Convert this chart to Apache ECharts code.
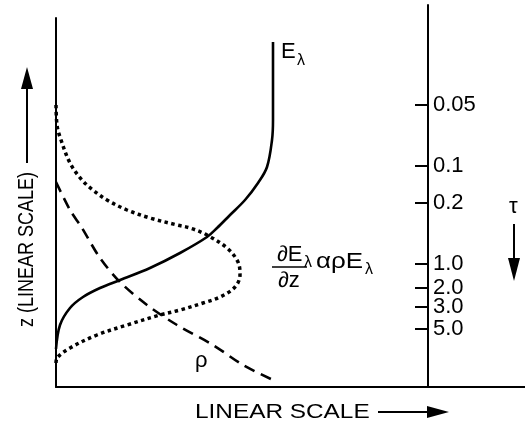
<!DOCTYPE html>
<html><head><meta charset="utf-8">
<script src="https://cdn.jsdelivr.net/npm/echarts@6/dist/echarts.min.js"></script>
<style>html,body{margin:0;padding:0;background:#fff}#c{width:525px;height:427px}</style>
</head><body><div id="c"></div>
<script>
// x: linear scale (arbitrary units), z: height (arbitrary linear units)
const irradianceE = [[0,38],[4,62],[14,79],[27,90],[44,99],[64,107],[94,119],[124,134],[151,150],[161,159],[174,172],[189,187],[202,204],[211,220],[216,247],[217,267],[217,300],[217,345]];
const dEdz = [[0,282],[1,262],[4,250],[14,224],[26,207],[37,197],[51,187],[71,177],[94,169],[121,162],[134,159],[151,152],[171,139],[182,125],[184,112],[179,100],[164,90],[147,84],[124,77],[104,72],[71,62],[41,52],[14,39],[1,29],[0,24]];
const density = [[0,205],[14,177],[26,159],[44,129],[64,105],[91,82],[121,62],[157,42],[187,22],[217,7]];
const tauLabels = ['0.05','0.1','0.2','1.0','2.0','3.0','5.0'];
const tauZ = [282,221,184,123,99,80,58];

const chart = echarts.init(document.getElementById('c'), null, {renderer:'canvas'});
const FONT = 'Liberation Sans, Arial, sans-serif';
const INK = '#000';
const noAxisDeco = {axisTick:{show:false}, axisLabel:{show:false}, splitLine:{show:false}};
const lineAx = {onZero:false, lineStyle:{color:INK, width:2}};
function txt(x,y,text,size,opts){
  return Object.assign({type:'text', x:x, y:y, style:{text:text, fontSize:size, fontFamily:FONT, fill:INK, align:'left', verticalAlign:'middle'}}, opts||{});
}
chart.setOption({
  animation:false,
  backgroundColor:'#fff',
  grid:[{left:56, top:18, right:0, bottom:40}, {left:428, top:5, right:87, bottom:40}],
  xAxis:[
    Object.assign({type:'value', gridIndex:0, min:0, max:469, axisLine:lineAx}, noAxisDeco),
    {type:'value', gridIndex:1, min:0, max:10, show:false}
  ],
  yAxis:[
    Object.assign({type:'value', gridIndex:0, min:0, max:369, axisLine:lineAx}, noAxisDeco),
    {type:'value', gridIndex:1, min:0, max:382, position:'left',
     axisLine:{show:true, onZero:false, lineStyle:{color:INK, width:2}},
     splitLine:{show:false},
     axisTick:{show:true, inside:false, length:13, lineStyle:{color:INK, width:2}, customValues:tauZ},
     axisLabel:{show:true, inside:true, margin:5, customValues:tauZ, color:INK, fontSize:22, fontFamily:FONT,
       formatter:function(v){ const i = tauZ.indexOf(v); return i>=0 ? tauLabels[i] : ''; }}}
  ],
  series:[
    {type:'line', xAxisIndex:0, yAxisIndex:0, data:irradianceE, symbol:'none', smooth:0.35,
     lineStyle:{color:INK, width:2.6}},
    {type:'line', xAxisIndex:0, yAxisIndex:0, data:dEdz, symbol:'none', smooth:0.35,
     lineStyle:{color:INK, width:3.5, type:[3.5,3.5]}},
    {type:'line', xAxisIndex:0, yAxisIndex:0, data:density, symbol:'none', smooth:0.3,
     lineStyle:{color:INK, width:2.6, type:[11,7]}}
  ],
  graphic:[
    txt(281,52,'E',22),
    txt(297,61,'λ',16),
    txt(277,255,'∂E',22),
    txt(304,263,'λ',16),
    {type:'line', shape:{x1:272,y1:267,x2:307,y2:267}, style:{stroke:INK, lineWidth:1.5}},
    txt(278,281,'∂z',22),
    txt(316,262,'αρE',22,{scaleX:1.18}),
    txt(365,270,'λ',16),
    txt(195,361,'ρ',22),
    txt(509,207,'τ',22),
    {type:'line', shape:{x1:514,y1:224,x2:514,y2:262}, style:{stroke:INK, lineWidth:2}},
    {type:'polygon', shape:{points:[[508,258],[520,258],[514,281]]}, style:{fill:INK}},
    txt(195,412,'LINEAR SCALE',21,{scaleX:1.16}),
    {type:'line', shape:{x1:378,y1:412,x2:430,y2:412}, style:{stroke:INK, lineWidth:2}},
    {type:'polygon', shape:{points:[[427,406],[427,418],[449,412]]}, style:{fill:INK}},
    txt(27,327,'z (LINEAR SCALE)',18,{rotation:Math.PI/2, scaleY:1.2}),
    {type:'line', shape:{x1:27,y1:163,x2:27,y2:85}, style:{stroke:INK, lineWidth:2}},
    {type:'polygon', shape:{points:[[21,89],[33,89],[27,67]]}, style:{fill:INK}}
  ]
});
</script>
</body></html>
